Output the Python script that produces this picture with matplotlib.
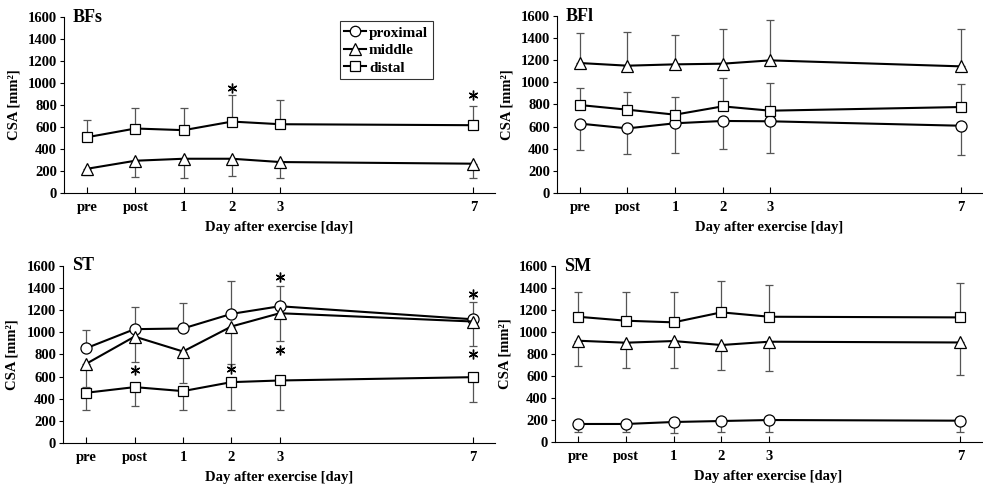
import matplotlib
matplotlib.use("Agg")
import matplotlib.pyplot as plt
from matplotlib.lines import Line2D

plt.rcParams['font.family'] = ['Liberation Serif', 'DejaVu Serif']
plt.rcParams['font.weight'] = 'bold'

# ---- data ----
x_labels = ['pre', 'post', '1', '2', '3', '7']
x_pos = [-1, 0, 1, 2, 3, 7]

# BFs
bfs_middle = [220, 293, 311, 311, 281, 266]
bfs_middle_sd = [60, 148, 175, 154, 145, 130]      # drawn downward
bfs_distal = [507, 586, 571, 649, 625, 616]
bfs_distal_sd = [154, 184, 199, 239, 220, 175]     # drawn upward
bfs_star_x = [2, 7]
bfs_star_y = [951, 890]

# BFl
bfl_proximal = [627, 584, 630, 651, 648, 608]
bfl_proximal_sd = [241, 235, 266, 256, 287, 268]   # down
bfl_middle = [1175, 1151, 1163, 1169, 1199, 1145]
bfl_middle_sd = [274, 304, 268, 316, 367, 337]     # up
bfl_distal = [795, 753, 708, 783, 744, 777]
bfl_distal_sd = [154, 163, 159, 259, 247, 211]     # up

# ST
st_proximal = [857, 1029, 1035, 1167, 1236, 1118]
st_proximal_sd = [166, 198, 231, 301, 187, 154]    # up
st_middle = [716, 962, 827, 1053, 1173, 1098]
st_middle_sd = [206, 232, 286, 337, 247, 217]      # down
st_distal = [454, 505, 469, 550, 565, 595]
st_distal_sd = [153, 174, 168, 249, 270, 225]      # down
st_star_x = [0, 2, 3, 3, 7, 7]
st_star_y = [656, 671, 1504, 842, 1347, 806]

# SM
sm_proximal = [164, 164, 182, 191, 200, 194]
sm_proximal_sd = [76, 76, 97, 103, 112, 100]       # down
sm_middle = [921, 903, 918, 882, 912, 905]
sm_middle_sd = [230, 227, 242, 227, 264, 296]      # down
sm_distal = [1139, 1103, 1088, 1179, 1139, 1133]
sm_distal_sd = [222, 264, 279, 288, 285, 309]      # up

series_style = {'proximal': 'o', 'middle': '^', 'distal': 's'}
marker_size = {'proximal': 8, 'middle': 8.5, 'distal': 7.5}

panels = [
    ('BFs', [0.0651, 0.603, 0.4385, 0.362],
     [('middle', bfs_middle, bfs_middle_sd, 'down'),
      ('distal', bfs_distal, bfs_distal_sd, 'up')],
     (bfs_star_x, bfs_star_y), True),
    ('BFl', [0.5666, 0.603, 0.4324, 0.364],
     [('proximal', bfl_proximal, bfl_proximal_sd, 'down'),
      ('middle', bfl_middle, bfl_middle_sd, 'up'),
      ('distal', bfl_distal, bfl_distal_sd, 'up')],
     None, False),
    ('ST', [0.0641, 0.0885, 0.4395, 0.3642],
     [('proximal', st_proximal, st_proximal_sd, 'up'),
      ('middle', st_middle, st_middle_sd, 'down'),
      ('distal', st_distal, st_distal_sd, 'down')],
     (st_star_x, st_star_y), False),
    ('SM', [0.5646, 0.0905, 0.4344, 0.3621],
     [('proximal', sm_proximal, sm_proximal_sd, 'down'),
      ('middle', sm_middle, sm_middle_sd, 'down'),
      ('distal', sm_distal, sm_distal_sd, 'up')],
     None, False),
]

fig = plt.figure(figsize=(9.83, 4.86), dpi=100)

for name, rect, series, stars, show_legend in panels:
    ax = fig.add_axes(rect)
    for key, vals, sd, direction in series:
        zeros = [0] * len(sd)
        yerr = [zeros, sd] if direction == 'up' else [sd, zeros]
        ax.errorbar(x_pos, vals, yerr=yerr, fmt='none', ecolor='#555555',
                    elinewidth=0.9, capsize=3, capthick=0.9, zorder=1)
        ax.plot(x_pos, vals, color='black', lw=1.5, marker=series_style[key],
                ms=marker_size[key], mfc='white', mec='black', mew=0.9,
                zorder=3, clip_on=False)
    if stars is not None:
        ax.plot(stars[0], stars[1], linestyle='none', marker=(6, 2, 0),
                ms=7, mec='black', mew=1.0, zorder=4)
    ax.set_ylim(0, 1600)
    ax.set_xlim(-1.48, 7.45)
    ax.set_yticks(range(0, 1601, 200))
    ax.set_xticks(x_pos)
    ax.set_xticklabels(x_labels)
    ax.tick_params(axis='y', direction='out', length=3, width=0.8,
                   labelsize=10.5, pad=2)
    ax.tick_params(axis='x', direction='in', length=4, width=0.8,
                   labelsize=10.5, pad=6)
    for sp in ['top', 'right']:
        ax.spines[sp].set_visible(False)
    for sp in ['left', 'bottom']:
        ax.spines[sp].set_linewidth(0.8)
    ax.set_ylabel('CSA [mm²]', fontsize=10.5, fontweight='bold')
    ax.yaxis.set_label_coords(-0.102, 0.5)
    ax.set_xlabel('Day after exercise [day]', fontsize=10.5,
                  fontweight='bold', labelpad=5)
    ax.text(0.021, 1.0, name, transform=ax.transAxes, fontsize=13,
            fontweight='bold', va='center', ha='left')
    if show_legend:
        handles = [Line2D([], [], color='black', lw=1.5,
                          marker=series_style[k], ms=marker_size[k] - 0.5,
                          mfc='white', mec='black', mew=0.9)
                   for k in ['proximal', 'middle', 'distal']]
        leg = ax.legend(handles, ['proximal', 'middle', 'distal'],
                        loc='upper left', bbox_to_anchor=(0.64, 0.975),
                        fontsize=11, frameon=True, fancybox=False,
                        handlelength=1.4, handletextpad=0.2,
                        borderpad=0.3, labelspacing=0.25,
                        borderaxespad=0)
        leg.get_frame().set_edgecolor('black')
        leg.get_frame().set_linewidth(0.8)

fig.savefig('out.png', dpi=100)
